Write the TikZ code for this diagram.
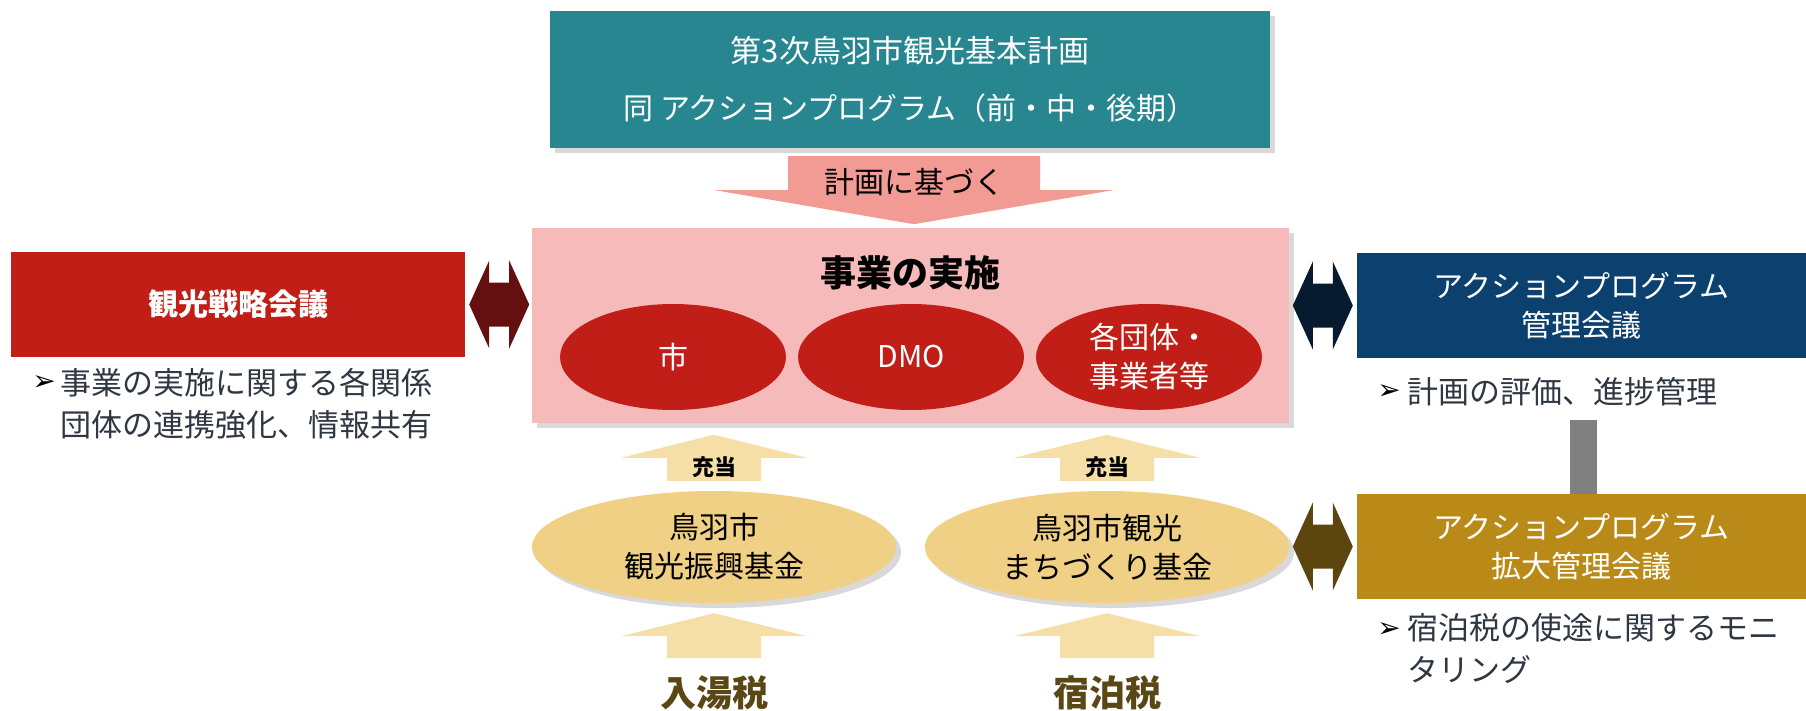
\documentclass[tikz,border=0pt]{standalone}
\usepackage{fontspec}
\setmainfont{Noto Sans CJK JP}
\newfontfamily\symfont{DejaVu Sans}
\usetikzlibrary{shapes.geometric,shadows}
\definecolor{planteal}{HTML}{27868F}
\definecolor{kijunpink}{HTML}{F29B94}
\definecolor{jisshipink}{HTML}{F6BABA}
\definecolor{senred}{HTML}{C11E17}
\definecolor{darkred}{HTML}{641010}
\definecolor{navy}{HTML}{0C416F}
\definecolor{navydark}{HTML}{061B2E}
\definecolor{gold}{HTML}{B98A17}
\definecolor{golddark}{HTML}{5D4510}
\definecolor{kikinyellow}{HTML}{F0D084}
\definecolor{jutoyellow}{HTML}{F6DFA6}
\definecolor{taxbrown}{HTML}{5B4716}
\definecolor{notegray}{HTML}{2E3742}
\definecolor{bargray}{HTML}{808080}
\newcommand*{\plansize}{\fontsize{31}{57}\selectfont}
\newcommand*{\boxsize}{\fontsize{30}{39}\selectfont}
\newcommand*{\notesize}{\fontsize{31}{42}\selectfont}
\newcommand*{\titlesize}{\fontsize{36}{40}\selectfont}
\newcommand*{\taxsize}{\fontsize{36}{40}\selectfont}
\newcommand*{\jutosize}{\fontsize{22}{24}\selectfont}
\begin{document}
\begin{tikzpicture}[x=1pt, y=-1pt,
  every node/.style={inner sep=0pt, align=center},
  softshadow/.style={drop shadow={shadow xshift=5pt, shadow yshift=-5pt, opacity=.3}},
  banner/.style={rectangle, minimum height=105, text=white, font=\boxsize},
  oval/.style={ellipse, fill=senred, text=white, minimum width=226, minimum height=106, font=\boxsize},
  fund/.style={ellipse, fill=kikinyellow, minimum width=364, minimum height=112, softshadow, font=\boxsize},
  note/.style={anchor=west, text=notegray, align=left, font=\notesize},
  bullet/.style={font=\symfont\fontsize{28}{30}\selectfont}]
\useasboundingbox (0,0) rectangle (1806,711);

\node[rectangle, fill=planteal, text=white, minimum width=720, minimum height=137, softshadow, font=\plansize] (plan) at (910,79.5) {第3次鳥羽市観光基本計画\\{\fontsize{30}{57}\selectfont 同 アクションプログラム（前・中・後期）}};
\node[rectangle, fill=jisshipink, minimum width=757, minimum height=195, softshadow] (jisshi) at (910.5,325.5) {};
\node[font=\titlesize\bfseries] (jisshititle) at (910,273) {事業の実施};
\node[oval] (shi) at (673,357) {市};
\node[oval] (dmo) at (911,357) {DMO};
\node[oval] (dantai) at (1149,357) {各団体・\\事業者等};

\fill[kijunpink] (plan.south) ++(4,8) ++(-126,0) -- ++(252,0) -- ++(0,34) -- ++(73,0) -- ++(-199,34) -- ++(-199,-34) -- ++(73,0) -- cycle;
\node[font=\boxsize] (kijun) at (914,182) {計画に基づく};

\node[banner, fill=senred, minimum width=454, font=\boxsize\bfseries] (senryaku) at (238,304.5) {観光戦略会議};
\node[bullet] (senryakubul) at (44,383) {➢};
\node[note] (senryakunote) at (60,404) {事業の実施に関する各関係\\団体の連携強化、情報共有};
\fill[darkred] (senryaku.east) ++(4,0) -- ++(20,-44) -- ++(0,22) -- ++(20,0) -- ++(0,-22) -- ++(20,44) -- ++(-20,44) -- ++(0,-22) -- ++(-20,0) -- ++(0,22) -- cycle;

\node[banner, fill=navy, minimum width=449] (kanri) at (1581.5,305.5) {アクションプログラム\\管理会議};
\node[bullet] (kanribul) at (1389,392) {➢};
\node[note] (kanrinote) at (1407,392) {計画の評価、進捗管理};
\fill[navydark] (kanri.west) ++(-64,0) -- ++(20,-44) -- ++(0,22) -- ++(20,0) -- ++(0,-22) -- ++(20,44) -- ++(-20,44) -- ++(0,-22) -- ++(-20,0) -- ++(0,22) -- cycle;

\node[banner, fill=gold, minimum width=449] (kakudai) at (1581.5,546.5) {アクションプログラム\\拡大管理会議};
\node[bullet] (kakudaibul) at (1389,630) {➢};
\node[note] (kakudainote) at (1407,648.5) {宿泊税の使途に関するモニ\\タリング};
\fill[golddark] (kakudai.west) ++(-64,0) -- ++(20,-44) -- ++(0,22) -- ++(20,0) -- ++(0,-22) -- ++(20,44) -- ++(-20,44) -- ++(0,-22) -- ++(-20,0) -- ++(0,22) -- cycle;
\coordinate (bartop) at (1583.5,420);
\draw[bargray, line width=27] (bartop) -- (bartop |- kakudai.north);

\node[fund] (kikinA) at (714,547) {鳥羽市\\観光振興基金};
\node[fund] (kikinB) at (1107,547) {鳥羽市観光\\まちづくり基金};
\node[font=\taxsize\bfseries, text=taxbrown] (nyuto) at (714,693) {入湯税};
\node[font=\taxsize\bfseries, text=taxbrown] (shukuhaku) at (1107,693) {宿泊税};

\fill[jutoyellow] (kikinA.north) ++(-47,-10) -- ++(0,-23) -- ++(-46,0) -- ++(93,-23) -- ++(93,23) -- ++(-46,0) -- ++(0,23) -- cycle;
\node[font=\jutosize\bfseries] (jutoA) at (714,467) {充当};
\fill[jutoyellow] (kikinB.north) ++(-47,-10) -- ++(0,-23) -- ++(-46,0) -- ++(93,-23) -- ++(93,23) -- ++(-46,0) -- ++(0,23) -- cycle;
\node[font=\jutosize\bfseries] (jutoB) at (1107,467) {充当};

\fill[jutoyellow] (kikinA.south) ++(-47,55) -- ++(0,-22) -- ++(-46,0) -- ++(93,-23) -- ++(93,23) -- ++(-46,0) -- ++(0,22) -- cycle;
\fill[jutoyellow] (kikinB.south) ++(-47,55) -- ++(0,-22) -- ++(-46,0) -- ++(93,-23) -- ++(93,23) -- ++(-46,0) -- ++(0,22) -- cycle;
\end{tikzpicture}
\end{document}
